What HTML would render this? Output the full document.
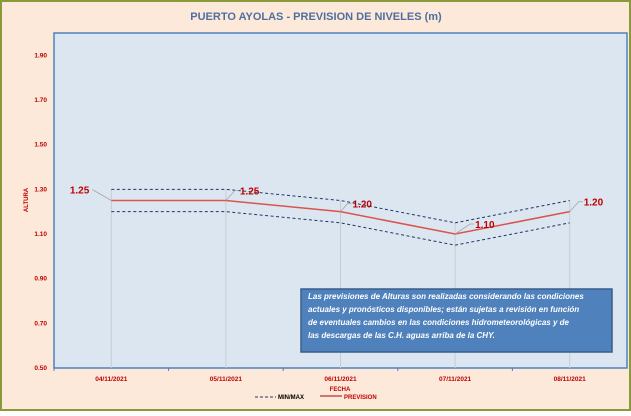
<!DOCTYPE html>
<html><head><meta charset="utf-8"><style>
body{margin:0;width:631px;height:411px;overflow:hidden;font-family:"Liberation Sans",sans-serif}
</style></head><body>
<svg width="631" height="411" xmlns="http://www.w3.org/2000/svg" font-family="Liberation Sans, sans-serif">
<rect x="1" y="1" width="629" height="409" fill="#fde9d9" stroke="#8a9a3b" stroke-width="2"/>
<text x="316" y="20" text-anchor="middle" font-size="11" font-weight="bold" fill="#4f6fa0">PUERTO AYOLAS - PREVISION DE NIVELES (m)</text>
<rect x="54" y="33" width="573" height="335" fill="#dce6f1" stroke="#4f81bd" stroke-width="1.5"/>
<g id="g"></g>
<text transform="translate(28,200) rotate(-90)" text-anchor="middle" font-size="6" font-weight="bold" fill="#c00000">ALTURA</text>
<text x="340" y="391" text-anchor="middle" font-size="6" font-weight="bold" fill="#c00000">FECHA</text>
<g>
<line x1="255" y1="397" x2="276" y2="397" stroke="#1f3864" stroke-dasharray="3,2"/>
<text x="278" y="399" font-size="6" font-weight="bold" fill="#000">MIN/MAX</text>
<line x1="320" y1="396" x2="342" y2="396" stroke="#c0504d" stroke-width="1.5"/>
<text x="344" y="399" font-size="6" font-weight="bold" fill="#c00000">PREVISION</text>
</g>
<g>
<rect x="301" y="289" width="311" height="63" fill="#4f81bd" stroke="#385d8a" stroke-width="1.5"/>
<text font-size="8" font-style="italic" font-weight="bold" fill="#fff">
<tspan x="308" y="299">Las previsiones de Alturas son realizadas considerando las condiciones</tspan>
<tspan x="308" y="312">actuales y pronósticos disponibles;  están sujetas a revisión en función</tspan>
<tspan x="308" y="325">de eventuales cambios en las condiciones hidrometeorológicas y de</tspan>
<tspan x="308" y="338">las descargas de las C.H. aguas arriba de la CHY.</tspan>
</text>
</g>
</svg>
<script>
const categories=["04/11/2021","05/11/2021","06/11/2021","07/11/2021","08/11/2021"];
const prevision=[1.25,1.25,1.20,1.10,1.20];
const maxVals=[1.30,1.30,1.25,1.15,1.25];
const minVals=[1.20,1.20,1.15,1.05,1.15];
const yTicks=[0.50,0.70,0.90,1.10,1.30,1.50,1.70,1.90];
const labelDx=[-16,14,12,20,14],labelDy=[-11,-10,-8,-10,-10];
const L=54,R=627,T=33,B=368,yMin=0.5,yMax=2.0;
const ns="http://www.w3.org/2000/svg",g=document.getElementById('g');
const bw=(R-L)/categories.length;
const x=i=>L+(i+0.5)*bw, y=v=>B-(v-yMin)/(yMax-yMin)*(B-T);
function mk(t,a){const e=document.createElementNS(ns,t);for(const k in a)e.setAttribute(k,a[k]);g.appendChild(e);return e;}
yTicks.forEach(v=>{const t=mk('text',{x:47,y:y(v)+2,'text-anchor':'end','font-size':6.5,'font-weight':'bold',fill:'#c00000'});t.textContent=v.toFixed(2);

});
categories.forEach((c,i)=>{
const d=mk('line',{x1:x(i),y1:y(maxVals[i]),x2:x(i),y2:B,stroke:'#c8ccd2','stroke-width':1});


const tk=mk('line',{x1:L+i*bw,y1:B,x2:L+i*bw,y2:B+3,stroke:'#4f81bd'});


const t=mk('text',{x:x(i),y:381,'text-anchor':'middle','font-size':6.5,'font-weight':'bold',fill:'#c00000'});t.textContent=c;

});
const pts=a=>a.map((v,i)=>x(i)+','+y(v)).join(' ');
[[maxVals,'max-line'],[minVals,'min-line']].forEach(([a,n])=>{const p=mk('polyline',{points:pts(a),fill:'none',stroke:'#1f3864','stroke-width':1,'stroke-dasharray':'3,2.5'});

});
const pl=mk('polyline',{points:pts(prevision),fill:'none',stroke:'#d9534f','stroke-width':1.5});


prevision.forEach((v,i)=>{const px=x(i),py=y(v),lx=px+labelDx[i],ly=py+labelDy[i];
const ld=mk('polyline',{points:`${px},${py} ${lx+(labelDx[i]<0?-3:-5)},${ly} ${lx+(labelDx[i]<0?-3:-1)},${ly}`,fill:'none',stroke:'#a6a6a6','stroke-width':0.8});


const t=mk('text',{x:labelDx[i]<0?lx-6:lx,y:ly+4,'text-anchor':labelDx[i]<0?'end':'start','font-size':10,'font-weight':'bold',fill:'#c00000'});t.textContent=v.toFixed(2);

});
</script>
</body></html>
